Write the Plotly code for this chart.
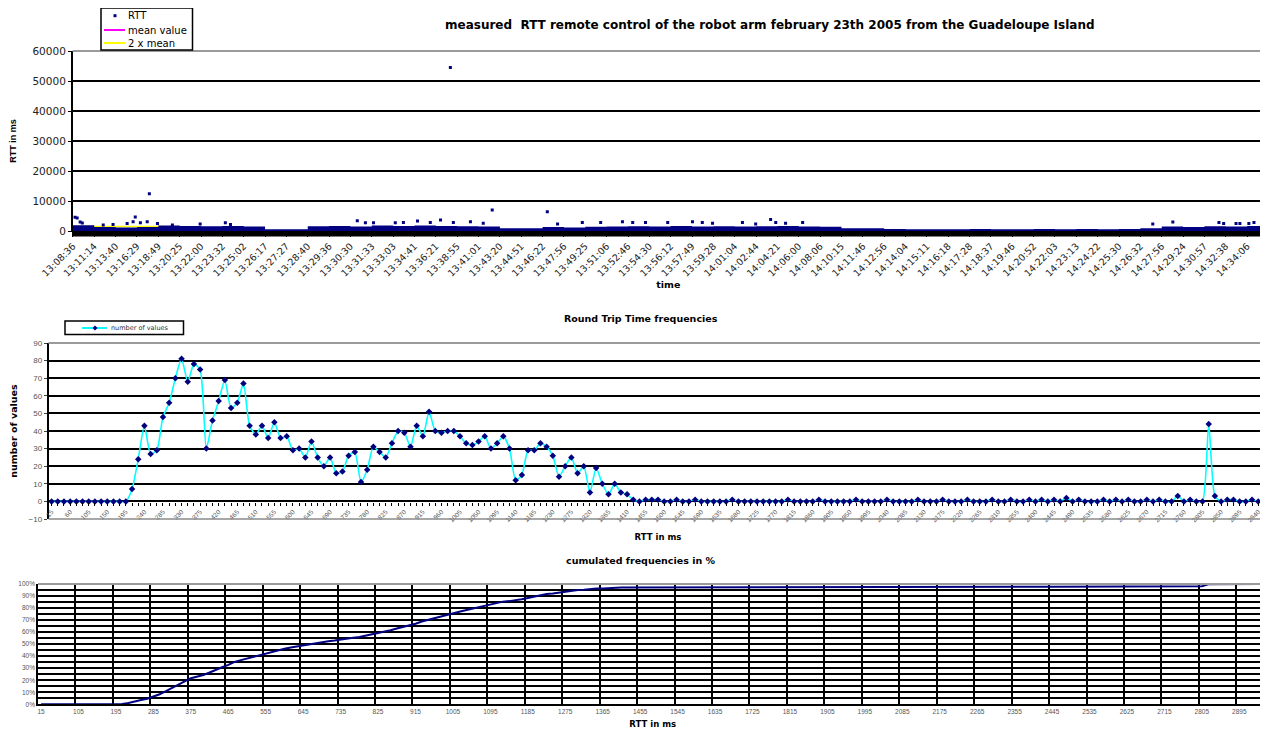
import numpy as np
import plotly.graph_objects as go

# the page body adds an 8 px margin, so the figure is laid out in page pixels minus that offset
PAGE_W, PAGE_H = 1268, 731
OFF = 8
W, H = PAGE_W - OFF, PAGE_H - OFF

# ------------------------------------------------------------------ data: RTT time series
time_labels = ["13:08:36", "13:11:14", "13:13:40", "13:16:29", "13:18:49", "13:20:25", "13:22:00",
               "13:23:32", "13:25:02", "13:26:17", "13:27:27", "13:28:40", "13:29:36", "13:30:30",
               "13:31:33", "13:33:03", "13:34:41", "13:36:21", "13:38:55", "13:41:01", "13:43:20",
               "13:44:51", "13:46:22", "13:47:56", "13:49:25", "13:51:06", "13:52:46", "13:54:30",
               "13:56:12", "13:57:49", "13:59:28", "14:01:04", "14:02:44", "14:04:21", "14:06:00",
               "14:08:06", "14:10:15", "14:11:46", "14:12:56", "14:14:04", "14:15:11", "14:16:18",
               "14:17:28", "14:18:37", "14:19:46", "14:20:52", "14:22:03", "14:23:13", "14:24:22",
               "14:25:30", "14:26:32", "14:27:56", "14:29:24", "14:30:57", "14:32:38", "14:34:06"]
samples_per_label = 50
n_samples = 2790

# upper edge of the dense RTT cloud in each labelled block of samples (ms)
rtt_cloud_top_ms = [1900, 1300, 1200, 1300, 1800, 1700, 1600, 1700, 1500, 600,
                    550, 1600, 1700, 1500, 1800, 1700, 1800, 1700, 1600, 1500,
                    900, 900, 1300, 1200, 1400, 1500, 1600, 1500, 1700, 1500,
                    1600, 1500, 1600, 1700, 1500, 1400, 900, 900, 700, 600,
                    600, 600, 650, 600, 600, 650, 600, 700, 600, 650,
                    900, 1500, 1300, 1600, 1500, 1700, 1700]

# isolated RTT samples above the cloud: sample number and value (ms)
rtt_peak_sample = [5, 10, 17, 22, 71, 94, 127, 141, 146, 158, 174, 179, 198, 233, 298, 357, 369,
                   666, 685, 704, 755, 774, 807, 837, 861, 884, 891, 931, 961, 982, 1111, 1135,
                   1193, 1236, 1287, 1311, 1341, 1393, 1451, 1474, 1498, 1568, 1599, 1634, 1646,
                   1669, 1709, 2529, 2576, 2684, 2695, 2724, 2733, 2754, 2766]
rtt_peak_ms = [4600, 4300, 3000, 2650, 2000, 2200, 2500, 3100, 4700, 2750, 3100, 12400, 2500, 2000,
               2300, 2750, 2200, 3400, 2750, 2750, 2750, 2800, 3300, 2800, 3700, 54500, 2800, 3100,
               2550, 7000, 6450, 2300, 2800, 2800, 3100, 2800, 2800, 2800, 3100, 2800, 2550, 2800,
               2300, 3800, 2800, 2550, 2800, 2300, 3000, 2800, 2500, 2500, 2500, 2500, 2800]

mean_span_samples = 210   # samples over which the mean lines were plotted

# ------------------------------------------------------------------ data: RTT histogram (15 ms bins)
rtt_bins_ms = [15, 30, 45, 60, 75, 90, 105, 120, 135, 150, 165, 180, 195, 210, 225, 240, 255, 270, 285, 300,
               315, 330, 345, 360, 375, 390, 405, 420, 435, 450, 465, 480, 495, 510, 525, 540, 555, 570, 585, 600,
               615, 630, 645, 660, 675, 690, 705, 720, 735, 750, 765, 780, 795, 810, 825, 840, 855, 870, 885, 900,
               915, 930, 945, 960, 975, 990, 1005, 1020, 1035, 1050, 1065, 1080, 1095, 1110, 1125, 1140, 1155, 1170, 1185, 1200,
               1215, 1230, 1245, 1260, 1275, 1290, 1305, 1320, 1335, 1350, 1365, 1380, 1395, 1410, 1425, 1440, 1455, 1470, 1485, 1500,
               1515, 1530, 1545, 1560, 1575, 1590, 1605, 1620, 1635, 1650, 1665, 1680, 1695, 1710, 1725, 1740, 1755, 1770, 1785, 1800,
               1815, 1830, 1845, 1860, 1875, 1890, 1905, 1920, 1935, 1950, 1965, 1980, 1995, 2010, 2025, 2040, 2055, 2070, 2085, 2100,
               2115, 2130, 2145, 2160, 2175, 2190, 2205, 2220, 2235, 2250, 2265, 2280, 2295, 2310, 2325, 2340, 2355, 2370, 2385, 2400,
               2415, 2430, 2445, 2460, 2475, 2490, 2505, 2520, 2535, 2550, 2565, 2580, 2595, 2610, 2625, 2640, 2655, 2670, 2685, 2700,
               2715, 2730, 2745, 2760, 2775, 2790, 2805, 2820, 2835, 2850, 2865, 2880, 2895, 2910, 2925, 2940, 2955]

number_of_values = [0, 0, 0, 0, 0, 0, 0, 0, 0, 0, 0, 0, 0, 7, 24, 43, 27, 29, 48, 56,
                    70, 81, 68, 78, 75, 30, 46, 57, 69, 53, 56, 67, 43, 38, 43, 36, 45, 36, 37, 29,
                    30, 25, 34, 25, 20, 25, 16, 17, 26, 28, 11, 18, 31, 28, 25, 33, 40, 39, 31, 43,
                    37, 51, 40, 39, 40, 40, 37, 33, 32, 34, 37, 30, 33, 37, 30, 12, 15, 29, 29, 33,
                    31, 26, 14, 20, 25, 16, 20, 5, 19, 10, 4, 10, 5, 4, 1, 0, 1, 1, 1,
                    0, 0, 1, 0, 0, 1, 0, 0, 0, 0,
                    0, 1, 0, 0, 0, 0, 0, 0, 0, 0,
                    1, 0, 0, 0, 0, 1, 0, 0, 0, 0,
                    0, 1, 0, 0, 0, 0, 1, 0, 0, 0,
                    0, 1, 0, 0, 0, 1, 0, 0, 0, 1,
                    0, 0, 0, 1, 0, 0, 1, 0, 0, 1,
                    0, 1, 0, 1, 0, 2, 0, 1, 0, 0,
                    0, 1, 0, 1, 0, 1, 0, 0, 1, 0,
                    1, 0, 0, 3, 0, 1, 0, 0, 44, 3,
                    0, 1, 1, 0, 0, 1, 0, 2]

pct_labels = ["0%", "10%", "20%", "30%", "40%", "50%", "60%", "70%", "80%", "90%", "100%"]

# ------------------------------------------------------------------ derived
counts = np.array(number_of_values, dtype=float)
bins = np.array(rtt_bins_ms, dtype=float)
cum_freq = np.cumsum(counts) / counts.sum()
mean_rtt = float(np.average(bins, weights=counts))
bin_cats = [str(b) for b in rtt_bins_ms]
bin_idx = list(range(len(bin_cats)))
bin_ticktext = [c if i % 3 == 0 else "" for i, c in enumerate(bin_cats)]
cum_tick_idx = bin_idx[::6]
label_samples = [k * samples_per_label for k in range(len(time_labels))]
cloud_x = label_samples + [n_samples - 1]

NAVY = "#000080"
FONT = "Liberation Sans, Arial, sans-serif"
WIDE = "DejaVu Sans, Liberation Sans, sans-serif"
TICKGRAY = "#555555"


def px_x(p):
    return (p - OFF) / W


def px_y(p):
    return 1 - (p - OFF) / H


fig = go.Figure()

# ---------------- top chart
fig.add_trace(go.Scatter(x=[0, mean_span_samples], y=[mean_rtt, mean_rtt], mode="lines",
                         line=dict(color="#FF00FF", width=1.5), name="mean value",
                         showlegend=False, xaxis="x", yaxis="y"))
fig.add_trace(go.Scatter(x=[0, mean_span_samples], y=[2 * mean_rtt, 2 * mean_rtt], mode="lines",
                         line=dict(color="#FFFF00", width=1.5), name="2 x mean",
                         showlegend=False, xaxis="x", yaxis="y"))
fig.add_trace(go.Scatter(x=cloud_x, y=rtt_cloud_top_ms, mode="lines", line=dict(width=0, shape="hv"),
                         fill="tozeroy", fillcolor=NAVY, showlegend=False, hoverinfo="skip",
                         name="RTT", xaxis="x", yaxis="y"))
fig.add_trace(go.Scatter(x=rtt_peak_sample, y=rtt_peak_ms, mode="markers",
                         marker=dict(symbol="square", size=3, color=NAVY), name="RTT",
                         showlegend=False, xaxis="x", yaxis="y"))

# ---------------- middle chart
fig.add_trace(go.Scatter(x=bin_cats, y=number_of_values, mode="lines+markers",
                         line=dict(color="#00FFFF", width=1.6, shape="spline", smoothing=0.6),
                         marker=dict(symbol="diamond", size=5, color=NAVY),
                         name="number of values", showlegend=False, xaxis="x2", yaxis="y2"))

# ---------------- bottom chart
fig.add_trace(go.Scatter(x=bin_idx, y=cum_freq, mode="lines", line=dict(color=NAVY, width=2),
                         name="cumulated frequencies", showlegend=False, xaxis="x3", yaxis="y3"))

fig.update_layout(
    width=W, height=H, margin=dict(l=0, r=0, t=0, b=0),
    paper_bgcolor="white", plot_bgcolor="white",
    font=dict(family=FONT, color="black"),
    showlegend=False,
    # top
    xaxis=dict(domain=[px_x(72.7), px_x(1264)], anchor="y", range=[-0.5, n_samples - 0.5],
               tickmode="array", tickvals=label_samples, ticktext=time_labels, tickangle=-45,
               tickfont=dict(family=WIDE, size=9.5, color="#222222"), showgrid=False, zeroline=False,
               showline=True, linecolor="black", linewidth=1, ticks="outside", ticklen=5,
               tickcolor="black",
               title=dict(text="<b>time</b>", font=dict(family=WIDE, size=9.5), standoff=0),
               automargin=False),
    yaxis=dict(domain=[px_y(231), px_y(51)], anchor="x", range=[0, 60000],
               tickmode="array", tickvals=[0, 10000, 20000, 30000, 40000, 50000, 60000],
               ticktext=["0", "10000", "20000", "30000", "40000", "50000", "60000"],
               tickfont=dict(family=WIDE, size=10.5, color="#222222"), showgrid=True,
               gridcolor="black", gridwidth=1.8,
               zeroline=False, showline=True, linecolor="black", linewidth=1.5,
               ticks="outside", ticklen=3, tickcolor="black",
               title=dict(text="<b>RTT in ms</b>", font=dict(family=FONT, size=9), standoff=14),
               automargin=False),
    # middle: the category axis crosses the value axis at 0
    xaxis2=dict(domain=[px_x(48.5), px_x(1267.5)], anchor="free", position=px_y(501.7),
                type="category", range=[-0.5, len(bin_cats) - 0.5],
                tickmode="array", tickvals=bin_cats, ticktext=bin_ticktext, tickangle=-45,
                tickfont=dict(family=FONT, size=6.5, color=TICKGRAY),
                ticks="outside", ticklen=3, tickwidth=1, tickcolor="black",
                showgrid=False, zeroline=False, showline=False,
                title=dict(text="<b>RTT in ms</b>", font=dict(family=WIDE, size=8.5), standoff=11),
                automargin=False),
    yaxis2=dict(domain=[px_y(519), px_y(343)], anchor="x2", range=[-10, 90], dtick=10, tick0=0,
                tickfont=dict(family=FONT, size=8, color=TICKGRAY), showgrid=True, gridcolor="black",
                gridwidth=2, zeroline=False, showline=True, linecolor="black", linewidth=1.5,
                ticks="outside", ticklen=3,
                title=dict(text="<b>number of values</b>", font=dict(family=WIDE, size=9.5), standoff=12),
                automargin=False),
    # bottom: ticks / grid between categories, label under each labelled category
    xaxis3=dict(domain=[px_x(38), px_x(1267.5)], anchor="y3", type="linear",
                range=[-0.5, len(bin_cats) - 0.5], tickmode="array",
                tickvals=[i - 0.5 for i in cum_tick_idx],
                ticktext=[bin_cats[i] for i in cum_tick_idx], ticklabelshift=3, tickangle=0,
                tickfont=dict(family=FONT, size=6.5, color=TICKGRAY),
                showgrid=True, gridcolor="black", gridwidth=2, zeroline=False,
                showline=True, linecolor="black", linewidth=1.5,
                title=dict(text="<b>RTT in ms</b>", font=dict(family=WIDE, size=8.5), standoff=7),
                automargin=False),
    yaxis3=dict(domain=[px_y(704.3), px_y(584)], anchor="x3", range=[0, 1],
                tickmode="array", tickvals=[i / 10 for i in range(11)], ticktext=pct_labels,
                tickfont=dict(family=FONT, size=6.5, color=TICKGRAY), showgrid=True,
                gridcolor="black", gridwidth=2,
                minor=dict(dtick=0.05, tick0=0, showgrid=True, gridcolor="black", gridwidth=2),
                zeroline=False, showline=True, linecolor="black", linewidth=1.5,
                automargin=False),
)

# dense category tick marks under the time axis appear as a solid black strip
fig.add_shape(type="rect", xref="x domain", yref="paper", x0=0, x1=1, y0=px_y(236.5), y1=px_y(231),
              fillcolor="black", line=dict(width=0), layer="above")
# lower edge of the middle plot area (value -10)
fig.add_shape(type="line", xref="x2 domain", yref="y2 domain", x0=0, x1=1, y0=0, y1=0,
              line=dict(color="#8a8a8a", width=1.5), layer="above")

# plot-area frames (gray top / right edges, as in the original)
for xr, yr in (("x", "y"), ("x2", "y2"), ("x3", "y3")):
    fig.add_shape(type="line", xref=f"{xr} domain", yref=f"{yr} domain", x0=0, x1=1, y0=1, y1=1,
                  line=dict(color="#9a9a9a", width=2), layer="above")
    fig.add_shape(type="line", xref=f"{xr} domain", yref=f"{yr} domain", x0=1, x1=1, y0=0, y1=1,
                  line=dict(color="#9a9a9a", width=2), layer="above")


# ---------------- legends (compact boxes as in the original)
def legend_box(x0, y0, x1, y1):
    fig.add_shape(type="rect", xref="paper", yref="paper", x0=px_x(x0), x1=px_x(x1),
                  y0=px_y(y1), y1=px_y(y0), fillcolor="white", line=dict(color="black", width=1.5),
                  layer="above")


def legend_line(x0, x1, y, color):
    fig.add_shape(type="line", xref="paper", yref="paper", x0=px_x(x0), x1=px_x(x1),
                  y0=px_y(y), y1=px_y(y), line=dict(color=color, width=2), layer="above")


def legend_text(x, y, text, size, color="black"):
    fig.add_annotation(text=text, x=px_x(x), y=px_y(y), xref="paper", yref="paper",
                       showarrow=False, xanchor="left", yanchor="middle",
                       font=dict(family=WIDE, size=size, color=color))


legend_box(101, 8, 192.5, 50)
fig.add_shape(type="rect", xref="paper", yref="paper", x0=px_x(113.5), x1=px_x(116.5),
              y0=px_y(17.2), y1=px_y(14.2), fillcolor=NAVY, line=dict(width=0), layer="above")
legend_text(126, 15.5, "RTT", 10)
legend_line(104, 125, 30, "#FF00FF")
legend_text(126, 30.5, "mean value", 10)
legend_line(104, 125, 43, "#FFFF00")
legend_text(126, 43.5, "2 x mean", 10)

legend_box(65, 321, 183.5, 334.5)
legend_line(82, 107, 328, "#00FFFF")
fig.add_shape(type="path", xref="paper", yref="paper",
              path=(f"M {px_x(95)} {px_y(325.5)} L {px_x(97.5)} {px_y(328)} "
                    f"L {px_x(95)} {px_y(330.5)} L {px_x(92.5)} {px_y(328)} Z"),
              fillcolor=NAVY, line=dict(width=0), layer="above")
legend_text(109, 328, "number of values", 6.5, "#333333")

# chart titles
fig.add_annotation(text="<b>measured  RTT remote control of the robot arm february 23th 2005 from the Guadeloupe Island</b>",
                   x=px_x(770), y=px_y(25), xref="paper", yref="paper", showarrow=False,
                   xanchor="center", yanchor="middle", font=dict(family=WIDE, size=12))
fig.add_annotation(text="<b>Round Trip Time frequencies</b>", x=px_x(641), y=px_y(318),
                   xref="paper", yref="paper", showarrow=False, xanchor="center", yanchor="middle",
                   font=dict(family=WIDE, size=9.5))
fig.add_annotation(text="<b>cumulated frequencies in %</b>", x=px_x(640), y=px_y(560),
                   xref="paper", yref="paper", showarrow=False, xanchor="center", yanchor="middle",
                   font=dict(family=WIDE, size=9.5))

fig.write_html("out.html")
